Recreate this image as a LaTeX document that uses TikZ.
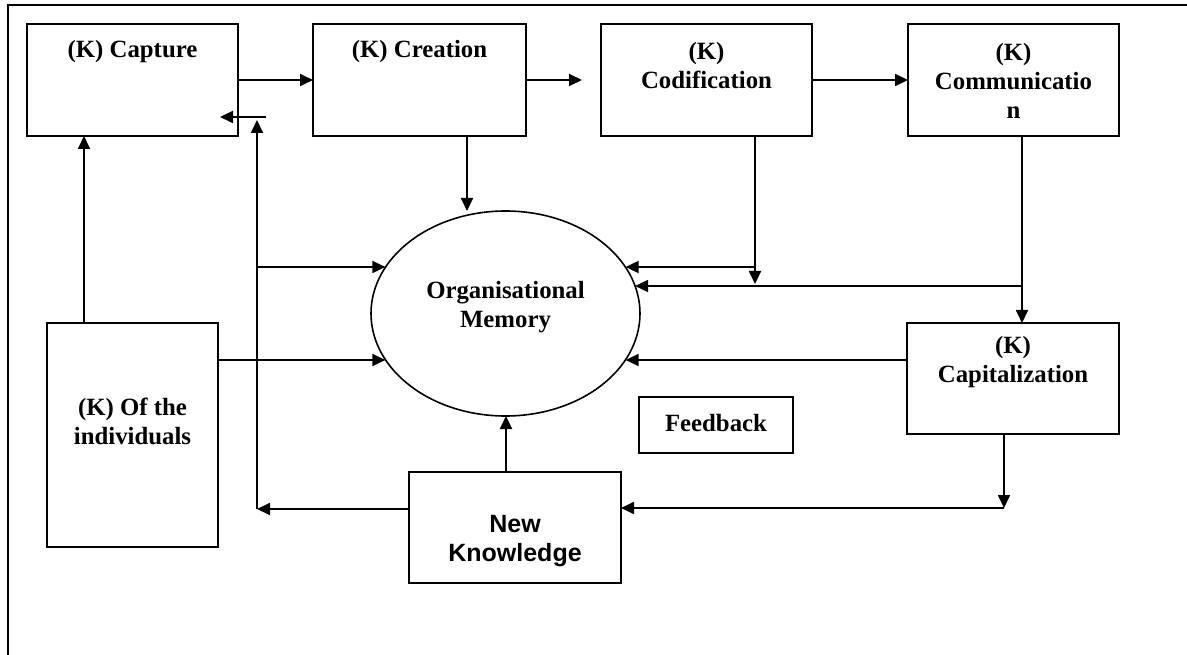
\documentclass[tikz,border=0pt]{standalone}
\usepackage{fontspec}
\setmainfont{Liberation Serif}
\newfontfamily\arialfont{Liberation Sans}
\usetikzlibrary{arrows.meta,shapes.geometric}

\begin{document}
\begin{tikzpicture}[x=1pt,y=-1pt,
  every node/.style={inner sep=0pt, outer sep=0pt},
  kbox/.style={draw, line width=1.8pt, rectangle},
  lbl/.style={align=center, font=\fontsize{24.8}{29}\selectfont\bfseries},
  sanslbl/.style={align=center, font=\arialfont\fontsize{25}{29}\selectfont\bfseries},
  arr/.style={line width=1.8pt, -{Triangle[length=13pt,width=12pt]}}]

\useasboundingbox (0,0) rectangle (1187,655);

% outer frame (top and left edges only)
\draw[line width=2pt] (1187,5) -- (8,5) -- (8,655);

% process boxes
\node[kbox, minimum width=211pt, minimum height=112pt] (cap)  at (132.5,80) {};
\node[kbox, minimum width=213pt, minimum height=112pt] (cre)  at (419.5,80) {};
\node[kbox, minimum width=211pt, minimum height=112pt] (cod)  at (706.5,80) {};
\node[kbox, minimum width=211pt, minimum height=112pt] (com)  at (1013.5,80) {};
\node[kbox, minimum width=212pt, minimum height=111pt] (capz) at (1013,378.5) {};
\node[kbox, minimum width=171pt, minimum height=224pt] (ind)  at (132.5,435) {};
\node[kbox, minimum width=154pt, minimum height=56pt]  (fb)   at (716,425) {};
\node[kbox, minimum width=212pt, minimum height=111pt] (nk)   at (515,527.5) {};
\node[draw, ellipse, line width=1.6pt, minimum width=269pt, minimum height=205pt] (mem) at (505.5,313.5) {};

% box texts
\node[lbl] (capT)  at (132.5,52) {(K) Capture};
\node[lbl] (creT)  at (419.5,52) {(K) Creation};
\node[lbl] (codT)  at (706.5,66) {(K)\\Codification};
\node[lbl] (comT)  at (1013.5,81) {(K)\\Communicatio\\n};
\node[lbl] (capzT) at (1013,362.5) {(K)\\Capitalization};
\node[lbl] (indT)  at (132.5,421) {(K) Of the\\individuals};
\node[lbl] (memT)  at (505.5,307) {Organisational\\Memory};
\node[lbl] (fbT)   at (716,423) {Feedback};
\node[sanslbl] (nkT) at (515,541) {New\\Knowledge};

% junctions of the connectors
\coordinate (jcod) at (755,267);
\coordinate (jcom) at (1022,286);
\coordinate (jl)   at (257,509);
\coordinate (jt)   at (257,120);
\coordinate (kr)   at (266,117);
\coordinate (kl)   at (220,117);
\coordinate (jr)   at (1004,508);

\path ([xshift=47.5pt]cre.south) coordinate (creS)
      ([xshift=48.5pt]cod.south) coordinate (codS)
      ([xshift=8.5pt]com.south)  coordinate (comS)
      ([xshift=-48.5pt]ind.north) coordinate (indN)
      ([yshift=75pt]ind.east)    coordinate (indE)
      ([yshift=18.5pt]capz.west) coordinate (capzW)
      ([xshift=-9pt]capz.south)  coordinate (capzS)
      ([xshift=-9pt]nk.north)    coordinate (nkN)
      ([yshift=18.5pt]nk.west)   coordinate (nkW);

% top chain
\draw[arr] (cap.east) -- (cre.west);
\draw[arr, shorten >=19pt] (cre.east) -- (cod.west);
\draw[arr] (cod.east) -- (com.west);

% into the organisational memory
\draw[arr] (creS) -- (creS |- mem.north);
\draw[arr, shorten >=2pt] (codS) -- (codS |- jcom);
\draw[arr] (jcod) -- (jcod -| mem.21);
\draw[arr] (comS) -- (comS |- capz.north);
\draw[arr] (jcom) -- (jcom -| mem.12);
\draw[arr] (indE) -- (indE -| mem.201);
\draw[arr] (capzW) -- (capzW -| mem.339);
\draw[arr] (nkN) -- (nkN |- mem.south);

% individuals to capture
\draw[arr] (indN) -- (indN |- cap.south);

% feedback loop
\draw[arr] (capzS) -- (jr);
\draw[arr] (jr) -- (jr -| nk.east);
\draw[arr] (nkW) -- (jl);
\draw[arr] (jl) -- (jt);
\draw[arr] (jl |- jcod) -- (jcod -| mem.159);
\draw[arr] (kr) -- (kl);
\end{tikzpicture}
\end{document}
